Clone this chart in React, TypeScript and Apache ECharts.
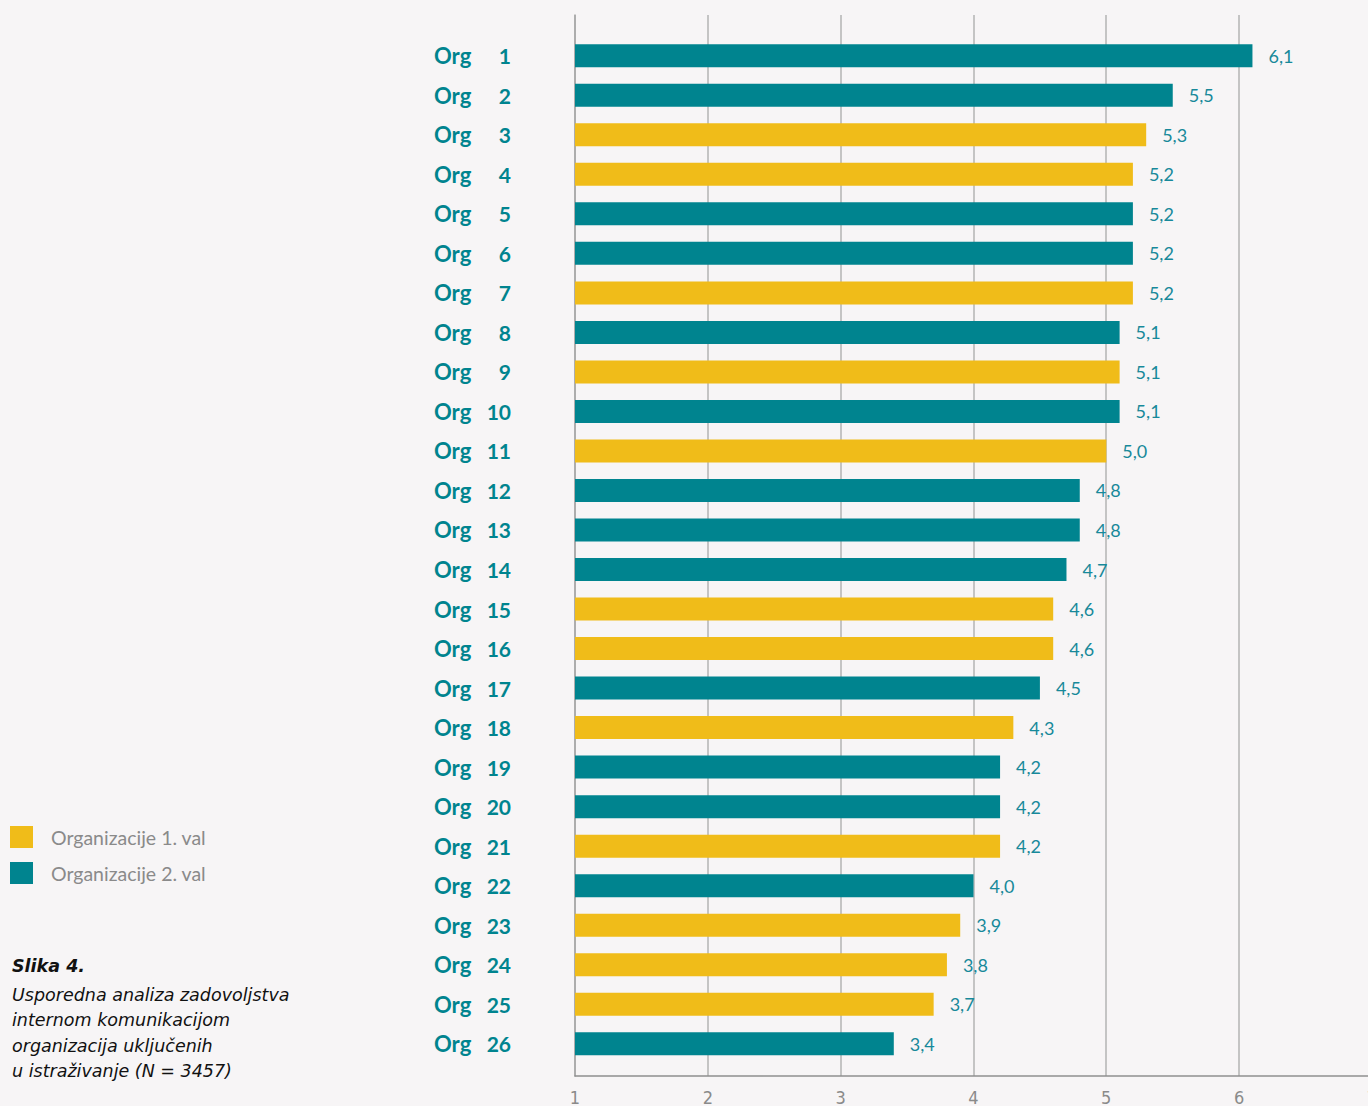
import React, { useEffect, useRef } from "react";
import * as echarts from "echarts";

// Organisations, ordered by score (top to bottom)
const organisations = [
  "1", "2", "3", "4", "5", "6", "7", "8", "9", "10", "11", "12", "13",
  "14", "15", "16", "17", "18", "19", "20", "21", "22", "23", "24", "25", "26",
];

// Mean satisfaction score per organisation
const scores = [
  6.1, 5.5, 5.3, 5.2, 5.2, 5.2, 5.2, 5.1, 5.1, 5.1, 5.0, 4.8, 4.8,
  4.7, 4.6, 4.6, 4.5, 4.3, 4.2, 4.2, 4.2, 4.0, 3.9, 3.8, 3.7, 3.4,
];

// Survey wave each organisation belongs to (1 or 2)
const waves = [
  2, 2, 1, 1, 2, 2, 1, 2, 1, 2, 1, 2, 2,
  2, 1, 1, 2, 1, 2, 2, 1, 2, 1, 1, 1, 2,
];

const seriesNames = ["Organizacije 1. val", "Organizacije 2. val"];
const axisTicks = [1, 2, 3, 4, 5, 6, 7];

const captionTitle = "Slika 4.";
const captionLines = [
  "Usporedna analiza zadovoljstva",
  "internom komunikacijom",
  "organizacija uključenih",
  "u istraživanje (N = 3457)",
];

const YELLOW = "#f0bc19";
const TEAL = "#00848f";
const LABEL_TEAL = "#17899a";
const BG = "#f7f5f6";
const FONT = "Lato, 'Noto Sans', sans-serif";
const CAPTION_FONT = "'DejaVu Sans', 'Noto Sans', sans-serif";

// The plot runs slightly past the right edge of the visible page
const CANVAS_W = 1380;
const CANVAS_H = 1106;

export default function App() {
  const ref = useRef<HTMLDivElement>(null);

  useEffect(() => {
    if (!ref.current) return;
    const chart = echarts.init(ref.current, null, { renderer: "svg" });

    const waveData = (w: number) =>
      scores.map((v, i) => (waves[i] === w ? v : null));

    const fmt = (v: number) => v.toFixed(1).replace(".", ",");

    const barSeries = [1, 2].map((w, k) => ({
      name: seriesNames[k],
      type: "bar",
      xAxisIndex: 1,
      yAxisIndex: 1,
      data: waveData(w),
      barWidth: 23,
      barGap: "-100%",
      itemStyle: { color: w === 1 ? YELLOW : TEAL },
      label: {
        show: true,
        position: "right",
        distance: 16,
        color: LABEL_TEAL,
        fontFamily: FONT,
        fontSize: 18,
        formatter: (p: any) => (p.value == null ? "" : fmt(p.value)),
      },
    }));

    chart.setOption({
      animation: false,
      backgroundColor: BG,
      legend: {
        orient: "vertical",
        left: 5,
        top: 821,
        icon: "rect",
        itemWidth: 23,
        itemHeight: 22,
        itemGap: 14,
        data: seriesNames,
        textStyle: {
          color: "#8a8a8a",
          fontFamily: FONT,
          fontSize: 19.5,
          padding: [0, 0, 0, 13],
        },
      },
      grid: [
        { left: 575, right: 8, top: 15, bottom: 30 },
        { left: 575, right: 8, top: 36, height: 1027.5 },
      ],
      xAxis: [
        {
          gridIndex: 0,
          type: "value",
          min: axisTicks[0],
          max: axisTicks[axisTicks.length - 1],
          interval: 1,
          axisLine: { show: true, lineStyle: { color: "#8f8f8f", width: 1.5 } },
          axisTick: { show: false },
          splitLine: { show: true, lineStyle: { color: "#b3b3b3", width: 1.5 } },
          axisLabel: {
            color: "#8a8a8a",
            fontFamily: "'Liberation Sans Narrow', 'DejaVu Sans Condensed', sans-serif",
            fontSize: 18,
            margin: 12,
          },
        },
        {
          gridIndex: 1,
          type: "value",
          min: axisTicks[0],
          max: axisTicks[axisTicks.length - 1],
          interval: 1,
          show: false,
        },
      ],
      yAxis: [
        {
          gridIndex: 0,
          type: "value",
          axisLine: { show: true, lineStyle: { color: "#a6a6a6", width: 1.5 } },
          axisTick: { show: false },
          axisLabel: { show: false },
          splitLine: { show: false },
        },
        {
          gridIndex: 1,
          type: "category",
          inverse: true,
          data: organisations,
          axisLine: { show: false },
          axisTick: { show: false },
          splitLine: { show: false },
          axisLabel: {
            margin: 64,
            formatter: (v: string) => `{a|Org}{b|${v}}`,
            rich: {
              a: {
                width: 40,
                align: "left",
                color: TEAL,
                fontFamily: FONT,
                fontWeight: "bold",
                fontSize: 22,
              },
              b: {
                width: 37,
                align: "right",
                color: TEAL,
                fontFamily: FONT,
                fontWeight: "bold",
                fontSize: 21,
              },
            },
          },
        },
      ],
      graphic: [
        {
          type: "text",
          left: 12,
          top: 957,
          style: {
            text: captionTitle,
            fill: "#111",
            font: `italic bold 17.5px ${CAPTION_FONT}`,
          },
        },
        {
          type: "text",
          left: 12,
          top: 982,
          style: {
            text: captionLines.join("\n"),
            fill: "#111",
            font: `italic 17.5px ${CAPTION_FONT}`,
            lineHeight: 25.5,
          },
        },
      ],
      series: barSeries,
    });

    return () => chart.dispose();
  }, []);

  return (
    <div
      style={{
        position: "fixed",
        left: 0,
        top: 0,
        width: 1368,
        height: CANVAS_H,
        overflow: "hidden",
      }}
    >
      <div ref={ref} style={{ width: CANVAS_W, height: CANVAS_H }} />
    </div>
  );
}
